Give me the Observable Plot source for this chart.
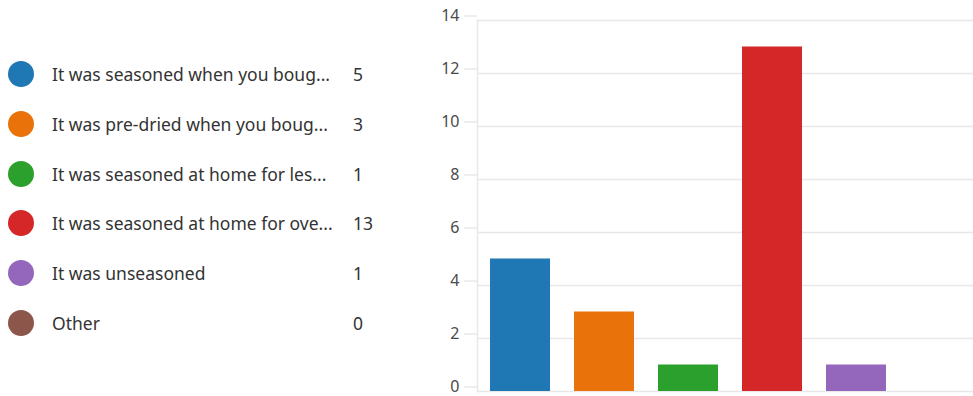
<!DOCTYPE html>
<html><head><meta charset="utf-8">
<script src="https://cdn.jsdelivr.net/npm/d3@7"></script>
<script src="https://cdn.jsdelivr.net/npm/@observablehq/plot@0.6"></script>
<style>
body{margin:0;background:#fff;}
#wrap{position:relative;width:973px;height:396px;font-family:"Segoe UI","Noto Sans","Open Sans",sans-serif;overflow:hidden;}
#legend{position:absolute;left:0;top:0;width:420px;height:396px;}
.row{position:absolute;left:0;height:26px;width:420px;}
.dot{position:absolute;left:8px;top:0;width:26px;height:26px;border-radius:50%;}
.lab{position:absolute;left:52px;top:0;line-height:26px;font-size:17.5px;color:#333;white-space:nowrap;}
.cnt{position:absolute;left:353px;top:0;line-height:26px;font-size:17.5px;color:#333;}
#chart{position:absolute;left:420px;top:0;}
</style>
</head><body>
<div id="wrap"><div id="legend"></div><div id="chart"></div></div>
<script>
const categories = [
  "It was seasoned when you bought it",
  "It was pre-dried when you bought it",
  "It was seasoned at home for less",
  "It was seasoned at home for over",
  "It was unseasoned",
  "Other"
];
const legendLabels = [
  "It was seasoned when you boug...",
  "It was pre-dried when you boug...",
  "It was seasoned at home for les...",
  "It was seasoned at home for ove...",
  "It was unseasoned",
  "Other"
];
const counts = [5, 3, 1, 13, 1, 0];
const colors = ["#1f77b4", "#e9720b", "#2ca02c", "#d62728", "#9467bd", "#8c564b"];
const yTicks = [0, 2, 4, 6, 8, 10, 12, 14];

// legend
const legend = document.getElementById("legend");
categories.forEach((c, i) => {
  const row = document.createElement("div");
  row.className = "row";
  row.style.top = (61 + i * 49.8) + "px";
  row.innerHTML = `<div class="dot" style="background:${colors[i]}"></div><div class="lab"></div><div class="cnt"></div>`;
  row.querySelector(".lab").textContent = legendLabels[i];
  row.querySelector(".cnt").textContent = counts[i];
  legend.appendChild(row);
});

const data = categories.map((c, i) => ({category: c, count: counts[i]}));

const chart = Plot.plot({
  width: 553, height: 396,
  marginLeft: 57, marginRight: 0, marginTop: 20, marginBottom: 5,
  style: {fontFamily: '"Segoe UI","Noto Sans","Open Sans",sans-serif', fontSize: "16px", background: "#fff", color: "#444"},
  x: {domain: categories, range: [57, 563], paddingInner: 0.2857, paddingOuter: 0.155, round: false, axis: null},
  y: {domain: [0, 14], ticks: yTicks},
  color: {domain: categories, range: colors},
  marks: [
    Plot.ruleY(yTicks, {stroke: "#e8e8e8", strokeWidth: 1.5}),
    Plot.frame({anchor: "left", stroke: "#e8e8e8", strokeWidth: 1.5}),
    Plot.axisY({ticks: yTicks, tickSize: 13, tickPadding: 5, stroke: "#e8e8e8", strokeWidth: 1.5, fill: "#4a4a4a", dy: -4.5, label: null}),
    Plot.barY(data, {x: "category", y: "count", fill: "category"})
  ]
});
document.getElementById("chart").appendChild(chart);
</script>
</body></html>
